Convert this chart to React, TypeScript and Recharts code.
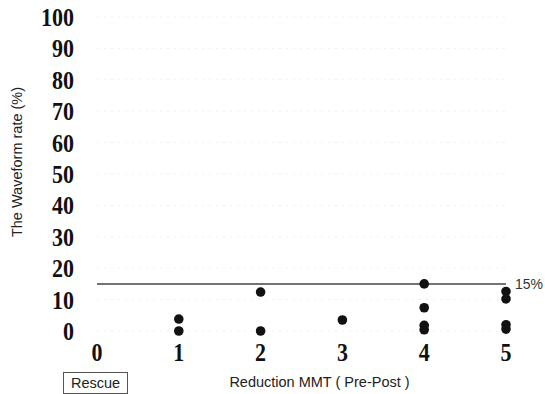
import React from "react";
import {
  ScatterChart,
  Scatter,
  XAxis,
  YAxis,
  ZAxis,
  CartesianGrid,
  ReferenceLine,
  Label,
} from "recharts";

const xTicks = [0, 1, 2, 3, 4, 5];
const yTicks = [0, 10, 20, 30, 40, 50, 60, 70, 80, 90, 100];
const reductionMMT = [1, 1, 2, 2, 3, 4, 4, 4, 4, 5, 5, 5, 5];
const waveformRate = [3.8, 0, 12.4, 0, 3.5, 15, 7.4, 1.8, 0.4, 12.6, 10.2, 2, 0.6];
const thresholdValue = 15;
const thresholdLabel = "15%";

const points = reductionMMT.map((x, i) => ({ x, y: waveformRate[i] }));

const serif = "'Liberation Serif', 'DejaVu Serif', serif";
const sans = "'Liberation Sans', Arial, sans-serif";

const Dot = (props: any) => {
  const { cx, cy } = props;
  return <circle cx={cx} cy={cy} r={4.8} fill="#111" />;
};

const YTick = (props: any) => {
  const { x, y, payload } = props;
  return (
    <text
      x={x}
      y={y}
      dy="0.35em"
      textAnchor="end"
      fontFamily={serif}
      fontSize={22}
      fontWeight="bold"
      fill="#111"
      transform={`translate(${x},${y}) scale(1,1.18) translate(${-x},${-y})`}
    >
      {payload.value}
    </text>
  );
};

const XTick = (props: any) => {
  const { x, y, payload } = props;
  return (
    <text
      x={x}
      y={y}
      dy="0.72em"
      textAnchor="middle"
      fontFamily={serif}
      fontSize={22}
      fontWeight="bold"
      fill="#111"
      transform={`translate(${x},${y}) scale(1,1.18) translate(${-x},${-y})`}
    >
      {payload.value}
    </text>
  );
};

export default function App() {
  return (
    <div style={{ position: "absolute", left: 0, top: 0, width: 545, height: 394, background: "#fff" }}>
      <ScatterChart width={545} height={394} margin={{ top: 17, right: 39, bottom: 33, left: 0 }}>
        <CartesianGrid horizontal vertical={false} stroke="#efefef" strokeDasharray="2 5" />
        <XAxis
          type="number"
          dataKey="x"
          domain={[0, 5]}
          ticks={xTicks}
          axisLine={false}
          tickLine={false}
          tickSize={0}
          tickMargin={11}
          height={30}
          tick={<XTick />}
        >
          <Label
            content={(p: any) => {
              const vb = p.viewBox || { x: 97, width: 409 };
              return (
                <text
                  x={vb.x + vb.width / 2 + 18}
                  y={387}
                  textAnchor="middle"
                  fontFamily={sans}
                  fontSize={14.5}
                  fill="#222"
                >
                  Reduction MMT ( Pre-Post )
                </text>
              );
            }}
          />
        </XAxis>
        <YAxis
          type="number"
          dataKey="y"
          domain={[0, 100]}
          ticks={yTicks}
          axisLine={false}
          tickLine={false}
          tickSize={0}
          tickMargin={23}
          width={97}
          tick={<YTick />}
        >
          <Label
            content={() => (
              <text
                x={22}
                y={162}
                transform="rotate(-90 22 162)"
                textAnchor="middle"
                fontFamily={sans}
                fontSize={14.5}
                fill="#222"
              >
                The Waveform rate (%)
              </text>
            )}
          />
        </YAxis>
        <ZAxis range={[80, 80]} />
        <ReferenceLine
          y={thresholdValue}
          stroke="#444"
          strokeWidth={1.5}
          label={{ value: thresholdLabel, position: "right", fontFamily: sans, fontSize: 14, fill: "#333", offset: 9 }}
        />
        <Scatter data={points} shape={<Dot />} isAnimationActive={false} />
      </ScatterChart>
      <div
        style={{
          position: "absolute",
          left: 63,
          top: 372,
          width: 63,
          height: 20,
          border: "1px solid #555",
          fontFamily: sans,
          fontSize: 14.5,
          color: "#222",
          lineHeight: "20px",
          textAlign: "center",
        }}
      >
        Rescue
      </div>
    </div>
  );
}
